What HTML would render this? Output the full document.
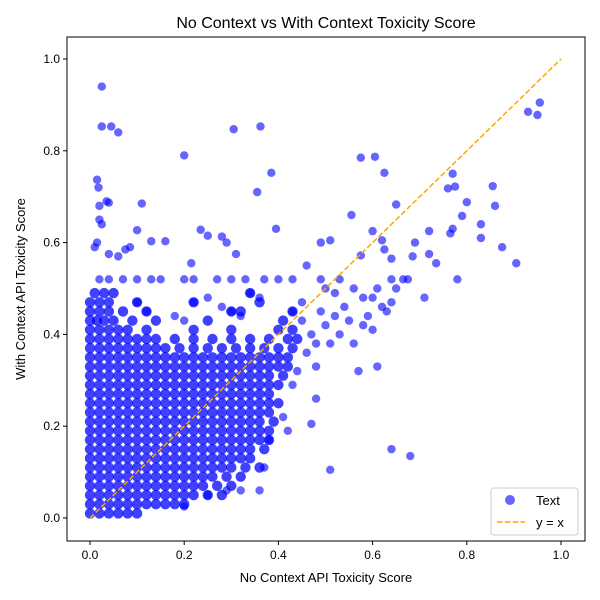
<!DOCTYPE html>
<html><head><meta charset="utf-8"><style>
body{margin:0;background:#fff;}
svg{display:block;font-family:"Liberation Sans","DejaVu Sans",sans-serif;}
</style></head><body>
<svg id="chart" width="600" height="600">
<rect x="0" y="0" width="600" height="600" fill="#fff"/>
<g id="plot"></g>
<rect x="67" y="37" width="518" height="504" fill="none" stroke="#000" stroke-width="1"/>
<g id="axes"></g>
<text x="326" y="28" text-anchor="middle" font-size="16">No Context vs With Context Toxicity Score</text>
<text x="326" y="582" text-anchor="middle" font-size="13">No Context API Toxicity Score</text>
<text x="25" y="289" text-anchor="middle" font-size="13" transform="rotate(-90 25 289)">With Context API Toxicity Score</text>
<g>
<rect x="491" y="488" width="87" height="47" rx="3" fill="#fff" fill-opacity="0.8" stroke="#ccc"/>
<g><circle cx="510" cy="500" r="5" fill="blue" fill-opacity="0.6"/><text x="536" y="505" font-size="13">Text</text></g>
<g><line x1="497" y1="522" x2="525" y2="522" stroke="orange" stroke-width="1.5" stroke-dasharray="5.5,2.4"/><text x="536" y="527" font-size="13">y = x</text></g>
</g>
</svg>
<script>
const xTicks=[0,0.2,0.4,0.6,0.8,1.0];
const yTicks=[0,0.2,0.4,0.6,0.8,1.0];
const xTickLabels=["0.0","0.2","0.4","0.6","0.8","1.0"];
const yTickLabels=["0.0","0.2","0.4","0.6","0.8","1.0"];
const denseRows=[
[0.01,[0,.02,.04,.06,.08,.10]],
[0.03,[0,.02,.04,.06,.08,.10,.12,.14,.16,.18,.20]],
[0.05,[0,.02,.04,.06,.08,.10,.12,.14,.16,.18,.20,.22,.25,.28]],
[0.07,[0,.02,.04,.06,.08,.10,.12,.14,.16,.18,.20,.22,.24,.27,.30]],
[0.09,[0,.02,.04,.06,.08,.10,.12,.14,.16,.18,.20,.22,.24,.26,.29,.32]],
[0.11,[0,.02,.04,.06,.08,.10,.12,.14,.16,.18,.20,.22,.24,.26,.28,.30,.33,.36]],
[0.13,[0,.02,.04,.06,.08,.10,.12,.14,.16,.18,.20,.22,.24,.26,.28,.30,.32,.34]],
[0.15,[0,.02,.04,.06,.08,.10,.12,.14,.16,.18,.20,.22,.24,.26,.28,.30,.32,.34,.37]],
[0.17,[0,.02,.04,.06,.08,.10,.12,.14,.16,.18,.20,.22,.24,.26,.28,.30,.32,.34,.36,.38]],
[0.19,[0,.02,.04,.06,.08,.10,.12,.14,.16,.18,.20,.22,.24,.26,.28,.30,.32,.34,.36,.38]],
[0.21,[0,.02,.04,.06,.08,.10,.12,.14,.16,.18,.20,.22,.24,.26,.28,.30,.32,.34,.36,.39]],
[0.23,[0,.02,.04,.06,.08,.10,.12,.14,.16,.18,.20,.22,.24,.26,.28,.30,.32,.34,.36,.38]],
[0.25,[0,.02,.04,.06,.08,.10,.12,.14,.16,.18,.20,.22,.24,.26,.28,.30,.32,.34,.36,.38,.40]],
[0.27,[0,.02,.04,.06,.08,.10,.12,.14,.16,.18,.20,.22,.24,.26,.28,.30,.32,.34,.36,.38]],
[0.29,[0,.02,.04,.06,.08,.10,.12,.14,.16,.18,.20,.22,.24,.26,.28,.30,.32,.34,.36,.38,.40]],
[0.31,[0,.02,.04,.06,.08,.10,.12,.14,.16,.18,.20,.22,.24,.26,.28,.30,.32,.34,.36,.38,.41]],
[0.33,[0,.02,.04,.06,.08,.10,.12,.14,.16,.18,.20,.22,.24,.26,.28,.30,.32,.34,.36,.38,.40,.42]],
[0.35,[0,.02,.04,.06,.08,.10,.12,.14,.16,.18,.20,.22,.24,.26,.28,.30,.32,.34,.36,.38,.40,.42]],
[0.37,[0,.02,.04,.06,.08,.10,.12,.14,.16,.19,.22,.25,.28,.31,.34,.37,.40,.43]],
[0.39,[0,.02,.04,.06,.08,.10,.12,.14,.18,.22,.26,.30,.34,.38,.42,.44]],
[0.41,[0,.02,.04,.06,.08,.12,.22,.30,.40,.43]],
[0.43,[0,.015,.03,.05,.09,.14,.25,.41]],
[0.45,[0,.02,.04,.07,.12,.30,.32,.43]],
[0.47,[0,.02,.04,.10,.22,.36]],
[0.49,[.01,.03,.05,.34]]
];
const outliers=[[0.025,0.94],[0.025,0.853],[0.045,0.853],[0.06,0.84],[0.305,0.847],[0.362,0.853],[0.2,0.79],[0.385,0.752],[0.575,0.785],[0.605,0.787],[0.625,0.752],[0.355,0.71],[0.015,0.737],[0.018,0.72],[0.035,0.69],[0.02,0.68],[0.04,0.687],[0.11,0.685],[0.02,0.65],[0.025,0.64],[0.015,0.6],[0.01,0.59],[0.04,0.575],[0.06,0.57],[0.1,0.627],[0.085,0.59],[0.075,0.585],[0.13,0.603],[0.16,0.603],[0.235,0.628],[0.25,0.615],[0.28,0.613],[0.29,0.6],[0.31,0.575],[0.395,0.63],[0.215,0.555],[0.46,0.55],[0.49,0.6],[0.51,0.605],[0.555,0.66],[0.575,0.572],[0.6,0.625],[0.625,0.585],[0.62,0.605],[0.64,0.565],[0.65,0.683],[0.665,0.52],[0.685,0.57],[0.69,0.6],[0.72,0.575],[0.72,0.625],[0.71,0.48],[0.735,0.555],[0.76,0.718],[0.77,0.75],[0.775,0.722],[0.77,0.63],[0.765,0.62],[0.78,0.52],[0.79,0.658],[0.8,0.688],[0.83,0.64],[0.83,0.61],[0.855,0.723],[0.86,0.68],[0.875,0.59],[0.905,0.555],[0.93,0.885],[0.95,0.878],[0.955,0.905],[0.675,0.52],[0.64,0.52],[0.61,0.5],[0.6,0.48],[0.59,0.44],[0.62,0.46],[0.64,0.47],[0.58,0.48],[0.56,0.5],[0.54,0.46],[0.55,0.43],[0.57,0.32],[0.61,0.33],[0.64,0.15],[0.68,0.135],[0.51,0.105],[0.47,0.205],[0.48,0.26],[0.52,0.44],[0.5,0.42],[0.51,0.38],[0.53,0.4],[0.48,0.38],[0.46,0.36],[0.44,0.32],[0.47,0.4],[0.49,0.45],[0.5,0.5],[0.52,0.49],[0.45,0.47],[0.43,0.45],[0.45,0.43],[0.48,0.33],[0.56,0.38],[0.58,0.42],[0.6,0.41],[0.63,0.45],[0.65,0.5],[0.53,0.52],[0.49,0.52],[0.43,0.52],[0.4,0.52],[0.37,0.52],[0.33,0.52],[0.3,0.52],[0.27,0.52],[0.22,0.52],[0.2,0.52],[0.15,0.52],[0.13,0.52],[0.1,0.52],[0.07,0.52],[0.04,0.52],[0.02,0.52],[0.36,0.48],[0.34,0.49],[0.25,0.48],[0.28,0.46],[0.22,0.47],[0.1,0.47],[0.12,0.45],[0.18,0.44],[0.2,0.43],[0.3,0.45],[0.32,0.44],[0.42,0.19],[0.36,0.06],[0.32,0.06],[0.29,0.06],[0.37,0.11],[0.38,0.17],[0.41,0.22],[0.43,0.29],[0.2,0.025],[0.25,0.05]];
const NS="http://www.w3.org/2000/svg";
function xs(v){return 90+v*471;}
function ys(v){return 518-v*459;}
const plot=document.getElementById('plot');
const axes=document.getElementById('axes');
function dot(x,y,r,op){
  const c=document.createElementNS(NS,'circle');
  c.setAttribute('cx',xs(x));c.setAttribute('cy',ys(y));c.setAttribute('r',r);
  c.setAttribute('fill','blue');c.setAttribute('fill-opacity',op);
  
  
  plot.appendChild(c);
}
denseRows.forEach(r=>r[1].forEach(x=>dot(x,r[0],5.2,0.75)));
outliers.forEach(p=>dot(p[0],p[1],4.2,0.6));
const ln=document.createElementNS(NS,'line');
ln.setAttribute('x1',xs(0));ln.setAttribute('y1',ys(0));ln.setAttribute('x2',xs(1));ln.setAttribute('y2',ys(1));
ln.setAttribute('stroke','orange');ln.setAttribute('stroke-width','1.5');ln.setAttribute('stroke-dasharray','5.5,2.4');


plot.appendChild(ln);
xTicks.forEach((v,i)=>{
  const t=document.createElementNS(NS,'line');
  t.setAttribute('x1',xs(v));t.setAttribute('x2',xs(v));t.setAttribute('y1',541);t.setAttribute('y2',545);t.setAttribute('stroke','#000');
  
  
  axes.appendChild(t);
  const l=document.createElementNS(NS,'text');
  l.setAttribute('x',xs(v));l.setAttribute('y',559);l.setAttribute('text-anchor','middle');l.setAttribute('font-size','12');
  l.textContent=xTickLabels[i];
  
  
  axes.appendChild(l);
});
yTicks.forEach((v,i)=>{
  const t=document.createElementNS(NS,'line');
  t.setAttribute('x1',63);t.setAttribute('x2',67);t.setAttribute('y1',ys(v));t.setAttribute('y2',ys(v));t.setAttribute('stroke','#000');
  
  
  axes.appendChild(t);
  const l=document.createElementNS(NS,'text');
  l.setAttribute('x',60);l.setAttribute('y',ys(v)+4);l.setAttribute('text-anchor','end');l.setAttribute('font-size','12');
  l.textContent=yTickLabels[i];
  
  
  axes.appendChild(l);
});
</script>
</body></html>
